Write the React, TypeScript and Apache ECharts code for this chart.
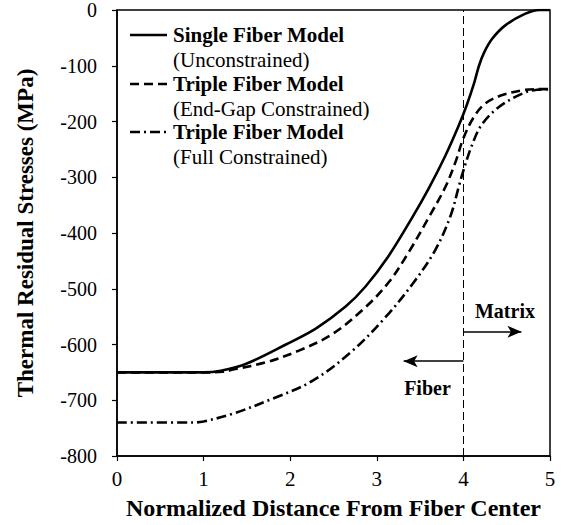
import React, { useEffect, useRef } from "react";
import * as echarts from "echarts";

const FONT = "Liberation Serif";

// Single Fiber Model (Unconstrained)
const singleX = [0, 0.5, 1.0, 1.2, 1.5, 1.95, 2.3, 2.64, 2.87, 3.12, 3.41, 3.6, 3.79, 3.95, 4.04, 4.12, 4.18, 4.24, 4.33, 4.48, 4.71, 4.88, 5];
const singleY = [-650, -650, -650, -647, -634, -600, -571, -532, -496, -445, -372, -320, -262, -206, -170, -133, -100, -76, -52, -28, -7, 0, 0];

// Triple Fiber Model (End-Gap Constrained)
const endGapX = [0, 1.0, 1.22, 1.34, 1.72, 2.1, 2.49, 2.87, 3.14, 3.37, 3.6, 3.79, 3.91, 4.0, 4.12, 4.25, 4.44, 4.68, 4.85, 5];
const endGapY = [-650, -650, -649, -645, -632, -611, -581, -533, -488, -434, -372, -318, -272, -230, -192, -168, -153, -144, -142, -142];

// Triple Fiber Model (Full Constrained)
const fullX = [0, 0.875, 1.0, 1.34, 1.8, 2.26, 2.72, 3.1, 3.41, 3.67, 3.85, 3.95, 4.0, 4.1, 4.21, 4.41, 4.68, 4.85, 5];
const fullY = [-740, -740, -738, -724, -697, -665, -611, -551, -492, -432, -370, -315, -288, -242, -206, -174, -150, -143, -142];

const xTicks = [0, 1, 2, 3, 4, 5];
const yTicks = [0, -100, -200, -300, -400, -500, -600, -700, -800];

const legendTitles = ["Single Fiber Model", "Triple Fiber Model", "Triple Fiber Model"];
const legendSubs = ["(Unconstrained)", "(End-Gap Constrained)", "(Full Constrained)"];

const boundaryX = 4;
const matrixArrow = [4, 4.67, -577];
const fiberArrow = [4, 3.31, -630];
const matrixLabel = [4.48, -540];
const fiberLabel = [3.585, -678];

const pairs = (xs: number[], ys: number[]) => xs.map((x, i) => [x, ys[i]]);

const DASH = [9, 5];
const DASHDOT = [10, 4, 2, 4];

export default function App() {
  const ref = useRef<HTMLDivElement>(null);
  useEffect(() => {
    if (!ref.current) return;
    const chart = echarts.init(ref.current, undefined, { renderer: "svg" });
    const legendRows = [35, 84, 132];
    const dashes: any[] = [null, DASH, DASHDOT];
    const graphic: any[] = [];
    legendRows.forEach((yy, i) => {
      graphic.push({
        type: "line",
        shape: { x1: 130, y1: yy, x2: 167, y2: yy },
        style: { stroke: "#000", lineWidth: 2.5, lineDash: dashes[i] },
      });
      graphic.push({
        type: "text",
        x: 173,
        y: yy,
        style: { text: legendTitles[i], fontFamily: FONT, fontWeight: "bold", fontSize: 21, fill: "#000", verticalAlign: "middle", align: "left" },
      });
      graphic.push({
        type: "text",
        x: 173,
        y: yy + 25,
        style: { text: legendSubs[i], fontFamily: FONT, fontSize: 21, fill: "#000", verticalAlign: "middle", align: "left" },
      });
    });

    chart.setOption({
      animation: false,
      backgroundColor: "#fff",
      textStyle: { fontFamily: FONT },
      grid: { left: 117, right: 17, top: 10, bottom: 69, show: true, borderColor: "#000", borderWidth: 1.5, backgroundColor: "transparent" },
      xAxis: {
        type: "value",
        min: 0,
        max: 5,
        interval: 1,
        name: "Normalized Distance From Fiber Center",
        nameLocation: "middle",
        nameGap: 40,
        nameTextStyle: { fontFamily: FONT, fontWeight: "bold", fontSize: 24, color: "#000" },
        axisLine: { show: true, onZero: false, lineStyle: { color: "#000", width: 1.5 } },
        axisTick: { show: true, inside: false, length: 5, lineStyle: { color: "#000", width: 1.2 } },
        axisLabel: { fontFamily: FONT, fontSize: 21, color: "#000", margin: 12, formatter: (v: number) => (xTicks.includes(v) ? String(v) : "") },
        splitLine: { show: false },
      },
      yAxis: {
        type: "value",
        min: -800,
        max: 0,
        interval: 100,
        name: "Thermal Residual Stresses (MPa)",
        nameLocation: "middle",
        nameGap: 80,
        nameTextStyle: { fontFamily: FONT, fontWeight: "bold", fontSize: 23, color: "#000" },
        axisLine: { show: true, onZero: false, lineStyle: { color: "#000", width: 1.5 } },
        axisTick: { show: true, inside: false, length: 5, lineStyle: { color: "#000", width: 1.2 } },
        axisLabel: { fontFamily: FONT, fontSize: 20, color: "#000", margin: 20, formatter: (v: number) => (yTicks.includes(v) ? String(v) : "") },
        splitLine: { show: false },
      },
      graphic,
      series: [
        {
          name: "Single Fiber Model (Unconstrained)",
          type: "line",
          data: pairs(singleX, singleY),
          showSymbol: false,
          symbol: "none",
          smooth: 0.35,
          lineStyle: { color: "#000", width: 2.6, type: "solid" },
          z: 3,
          markLine: {
            silent: true,
            symbol: "none",
            label: { show: false },
            data: [
              { xAxis: boundaryX, lineStyle: { color: "#000", width: 1, type: [8, 4] } },
              [
                { coord: [matrixArrow[0], matrixArrow[2]], symbol: "none" },
                { coord: [matrixArrow[1], matrixArrow[2]], symbol: "arrow", symbolSize: [9, 14] },
              ],
              [
                { coord: [fiberArrow[0], fiberArrow[2]], symbol: "none" },
                { coord: [fiberArrow[1], fiberArrow[2]], symbol: "arrow", symbolSize: [9, 14] },
              ],
            ],
            lineStyle: { color: "#000", width: 1.5, type: "solid" },
          },
          markPoint: {
            silent: true,
            symbol: "rect",
            symbolSize: 1,
            itemStyle: { color: "transparent" },
            label: { show: true, position: "inside", fontFamily: FONT, fontWeight: "bold", fontSize: 20, color: "#000" },
            data: [
              { coord: matrixLabel, label: { formatter: "Matrix" } },
              { coord: fiberLabel, label: { formatter: "Fiber" } },
            ],
          },
        },
        {
          name: "Triple Fiber Model (End-Gap Constrained)",
          type: "line",
          data: pairs(endGapX, endGapY),
          showSymbol: false,
          symbol: "none",
          smooth: 0.35,
          lineStyle: { color: "#000", width: 2.6, type: DASH },
          z: 2,
        },
        {
          name: "Triple Fiber Model (Full Constrained)",
          type: "line",
          data: pairs(fullX, fullY),
          showSymbol: false,
          symbol: "none",
          smooth: 0.35,
          lineStyle: { color: "#000", width: 2.6, type: DASHDOT },
          z: 2,
        },
      ],
    });
    return () => chart.dispose();
  }, []);
  return <div ref={ref} style={{ position: "fixed", left: 0, top: 0, width: 567, height: 525, background: "#fff" }} />;
}
